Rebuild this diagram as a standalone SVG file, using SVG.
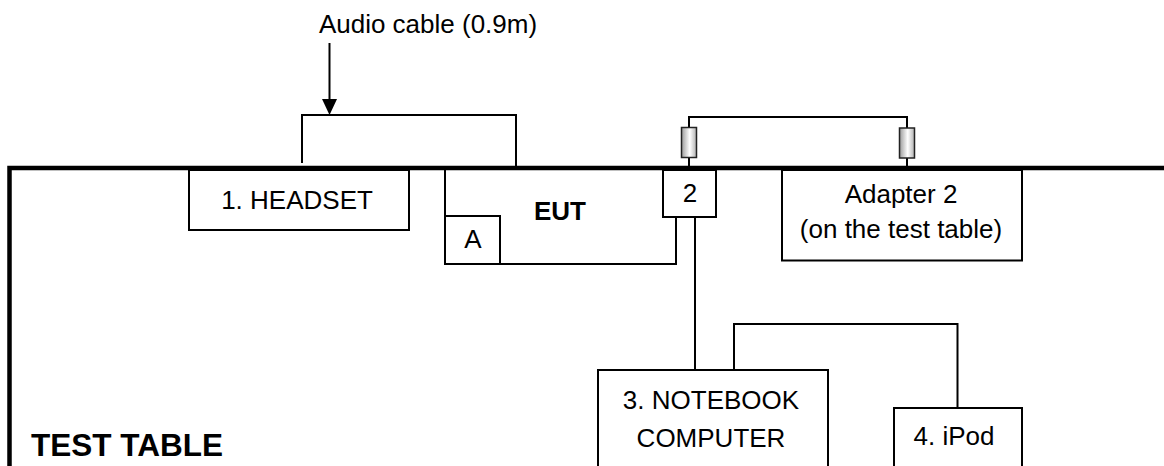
<svg xmlns="http://www.w3.org/2000/svg" width="1164" height="466" viewBox="0 0 1164 466">
<style>
.box{fill:#fff;stroke:#000;stroke-width:2}
.ln{fill:none;stroke:#000;stroke-width:2}
.tbl{fill:none;stroke:#000;stroke-width:4.5}
.t{font-family:"Liberation Sans",Arial,sans-serif;font-size:26px;fill:#000;text-anchor:middle}
.b{font-weight:bold}
.plug{fill:url(#pg);stroke:#222;stroke-width:1.5}
</style>
<defs>
<linearGradient id="pg" x1="0" y1="0" x2="1" y2="0">
<stop offset="0" stop-color="#9a9a9a"/>
<stop offset="0.55" stop-color="#ffffff"/>
<stop offset="1" stop-color="#b0b0b0"/>
</linearGradient>
</defs>
<rect width="1164" height="466" fill="#fff"/>
<g id="table">
<path class="tbl" d="M9.5,466 V168 H1164"/>
<text class="t b" x="31" y="456" style="text-anchor:start;font-size:31.5px">TEST TABLE</text>
</g>
<g id="connectors">
<path class="ln" d="M302,163 V115 H516 V168"/>
<line class="ln" x1="329.5" y1="43" x2="329.5" y2="101"/>
<polygon points="322,99 337,99 329.5,115" fill="#000"/>
<path class="ln" d="M689,127 V117 H907 V128"/>
<line class="ln" x1="689" y1="157" x2="689" y2="167"/>
<line class="ln" x1="907" y1="158" x2="907" y2="167"/>
<line class="ln" x1="695" y1="217" x2="695" y2="370"/>
<path class="ln" d="M734,370 V324 H957.5 V408"/>
</g>
<g id="audio-label">
<text class="t" x="428" y="33">Audio cable (0.9m)</text>
</g>
<g id="plug1"><rect class="plug" x="681.5" y="127.5" width="15" height="30"/></g>
<g id="plug2"><rect class="plug" x="899.5" y="128" width="15" height="30"/></g>
<g id="headset">
<rect class="box" x="189" y="170" width="220" height="60"/>
<text class="t" x="297" y="209">1. HEADSET</text>
</g>
<g id="eut">
<path class="ln" d="M445,170 V264 H676 V217"/>
<text class="t b" x="560" y="220">EUT</text>
</g>
<g id="portA">
<rect class="box" x="445" y="216" width="55" height="48"/>
<text class="t" x="473" y="248">A</text>
</g>
<g id="port2">
<rect class="box" x="663" y="170" width="53" height="47"/>
<text class="t" x="690" y="202">2</text>
</g>
<g id="adapter2">
<rect class="box" x="782" y="170" width="240" height="90.5"/>
<text class="t" x="901" y="203">Adapter 2</text>
<text class="t" x="901" y="238">(on the test table)</text>
</g>
<g id="notebook">
<path class="box" d="M598,468 V370 H828 V468"/>
<text class="t" x="711" y="409">3. NOTEBOOK</text>
<text class="t" x="711" y="447">COMPUTER</text>
</g>
<g id="ipod">
<path class="box" d="M894,468 V408 H1022 V468"/>
<text class="t" x="954" y="445">4. iPod</text>
</g>
</svg>
